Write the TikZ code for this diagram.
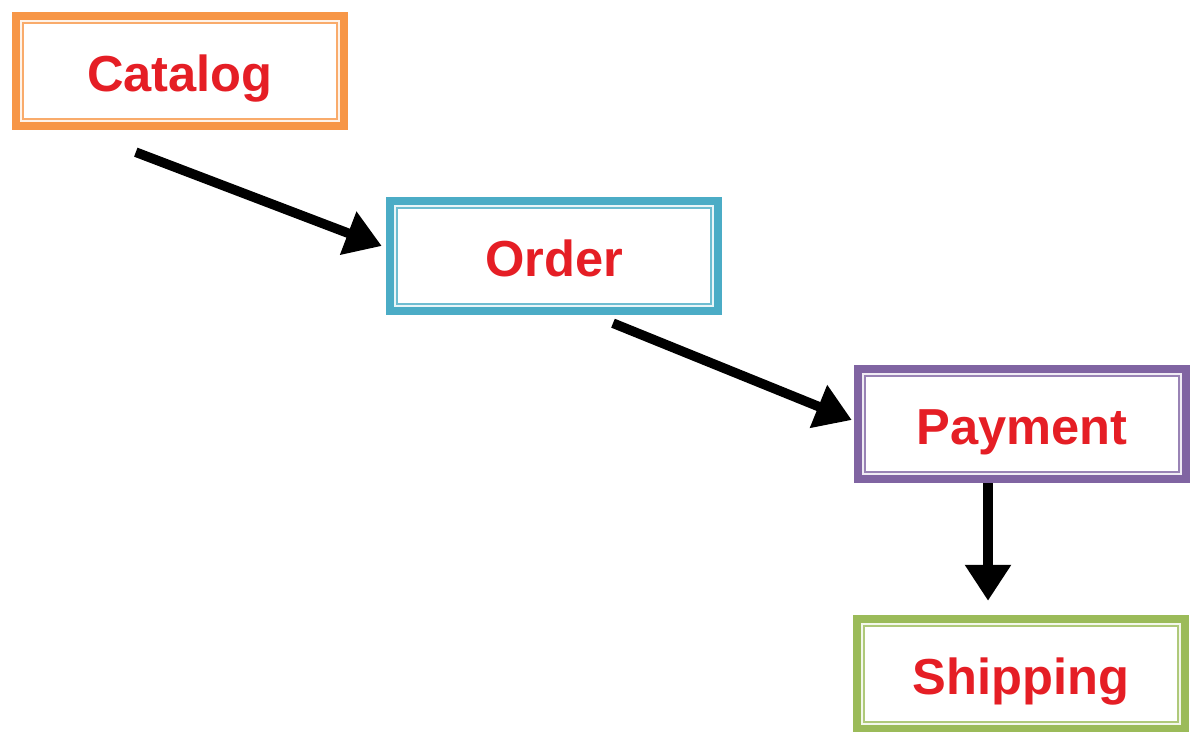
\documentclass[tikz,border=0pt]{standalone}
\usepackage{fontspec}
\setmainfont{Liberation Sans}
\usetikzlibrary{positioning, arrows.meta, calc}
\definecolor{colorcatalog}{HTML}{F79646}
\definecolor{colororder}{HTML}{4BACC6}
\definecolor{colorpayment}{HTML}{8064A2}
\definecolor{colorshipping}{HTML}{9BBB59}
\definecolor{colorlabel}{HTML}{E51E25}

\begin{document}
\begin{tikzpicture}[
    % Framed step boxes: thick outer line, thin inner line
    stage/.style={
        rectangle,
        draw=#1,
        fill=white,
        line width=0.21cm,
        minimum width=8.2cm,
        minimum height=2.75cm,
        align=center,
        text height=1.0cm,
        text depth=0cm,
        text=colorlabel,
        font=\fontsize{36}{40}\selectfont\bfseries,
        path picture={
            \fill[#1!12]
                ([shift={(0.1,0.1)}]path picture bounding box.south west)
                rectangle
                ([shift={(-0.1,-0.1)}]path picture bounding box.north east);
            \fill[white, draw=#1!80, line width=1.3pt]
                ([shift={(0.17,0.17)}]path picture bounding box.south west)
                rectangle
                ([shift={(-0.17,-0.17)}]path picture bounding box.north east);
        }
    },
    flow/.style={
        -{Triangle[length=0.9cm, width=1.1cm]},
        black,
        line width=0.24cm
    }
]

% ==============================
% Frame
% ==============================
\useasboundingbox (0,0) rectangle (29.8,-18.275);

% ==============================
% Steps
% ==============================
\node[stage=colorcatalog] (catalog) at (4.5,-1.775) {Catalog};
\node[stage=colororder] (order) at (13.85,-6.4) {Order};
\node[stage=colorpayment] (payment) at (25.55,-10.6) {Payment};
\node[stage=colorshipping] (shipping) at (25.525,-16.85) {Shipping};

% ==============================
% Arrows
% ==============================
\draw[flow] ($(catalog.south west)+(3.1,-0.55)$) -- ($(order.west)+(-0.1,0.25)$);
\draw[flow] ($(order.south)+(1.475,-0.2)$) -- ($(payment.west)+(-0.05,0.1)$);
\draw[flow] ([xshift=-0.85cm]payment.south) -- ([xshift=-0.85cm,yshift=0.35cm]payment.south |- shipping.north);

\end{tikzpicture}
\end{document}
